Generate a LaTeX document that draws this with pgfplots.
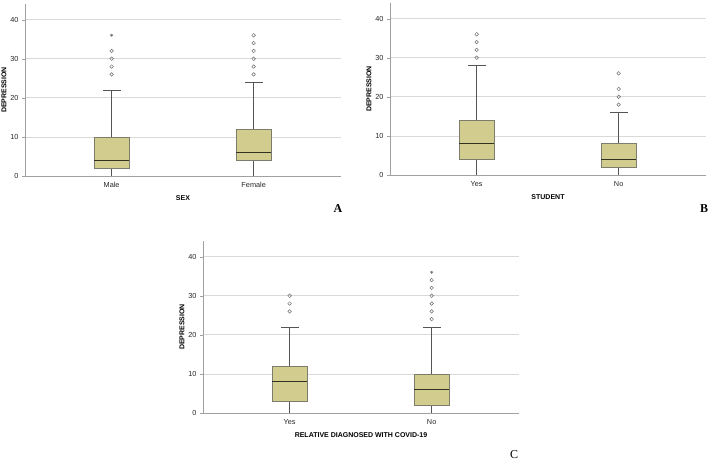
\documentclass[border=0pt]{standalone}
\usepackage{fontspec}
\setmainfont{Liberation Sans}
\newfontfamily\letterfont{Liberation Serif}
\usepackage{pgfplots}
\pgfplotsset{compat=1.18}
\usepgfplotslibrary{statistics}

\definecolor{boxfill}{RGB}{210,204,142}
\definecolor{boxedge}{RGB}{125,125,110}
\definecolor{medcol}{RGB}{50,50,35}
\definecolor{whiskcol}{RGB}{85,85,85}
\definecolor{gridcol}{RGB}{217,217,217}
\definecolor{axcol}{RGB}{160,160,160}
\definecolor{outcol}{RGB}{110,110,110}

\pgfplotsset{
  spss/.style={
    scale only axis, width=316pt, height=172pt,
    anchor=south west,
    xmin=0.39, xmax=2.615, ymin=0, ymax=44,
    axis x line*=bottom, axis y line*=left,
    axis line style={axcol, line width=0.8pt},
    xtick={1,2}, ytick={0,10,20,30,40},
    x tick style={draw=none}, major tick length=3pt, tick align=outside,
    y tick style={axcol},
    ymajorgrids, grid style={gridcol, line width=0.8pt},
    tick label style={font=\fontsize{7.3}{8}\selectfont, text=black!85},
    /pgf/number format/assume math mode=true,
    ylabel={DEPRESSION},
    every axis y label/.style={at={(axis description cs:0,0.5)}, rotate=90,
      anchor=center, yshift=21pt, font=\fontsize{7}{8}\selectfont\bfseries},
    every axis x label/.style={at={(axis description cs:0.5,0)},
      anchor=center, yshift=-22pt, font=\fontsize{7}{8}\selectfont\bfseries},
    boxplot/draw direction=y,
    boxplot/box extend=0.25,
    boxplot/whisker extend=0.125,
    boxplot/every box/.style={draw=boxedge, fill=boxfill, line width=0.7pt},
    boxplot/every whisker/.style={draw=whiskcol, line width=0.7pt},
    boxplot/every median/.style={draw=medcol, line width=1.5pt},
  },
  outl/.style={only marks, mark=o, mark size=1.8pt,
    mark options={draw=outcol, line width=0.5pt}},
  ext/.style={only marks, mark=asterisk, mark size=1.5pt,
    mark options={draw=outcol, line width=0.5pt}},
}

\begin{document}
\begin{tikzpicture}
\useasboundingbox (0,0) rectangle (709pt,460pt);

% A: sex
\begin{axis}[spss, at={(25pt,284pt)}, xticklabels={Male,Female}, xlabel={SEX}]
\addplot[boxplot prepared={lower whisker=0, lower quartile=2, median=4,
  upper quartile=10, upper whisker=22, draw position=1}] coordinates {};
\addplot[boxplot prepared={lower whisker=0, lower quartile=4, median=6,
  upper quartile=12, upper whisker=24, draw position=2}] coordinates {};
\addplot[outl] coordinates {(1,26)(1,28)(1,30)(1,32)};
\addplot[ext] coordinates {(1,36)};
\addplot[outl] coordinates {(2,26)(2,28)(2,30)(2,32)(2,34)(2,36)};
\end{axis}

% B: student
\begin{axis}[spss, at={(390pt,285pt)}, xticklabels={Yes,No}, xlabel={STUDENT}]
\addplot[boxplot prepared={lower whisker=0, lower quartile=4, median=8,
  upper quartile=14, upper whisker=28, draw position=1}] coordinates {};
\addplot[boxplot prepared={lower whisker=0, lower quartile=2, median=4,
  upper quartile=8, upper whisker=16, draw position=2}] coordinates {};
\addplot[outl] coordinates {(1,30)(1,32)(1,34)(1,36)};
\addplot[outl] coordinates {(2,18)(2,20)(2,22)(2,26)};
\end{axis}

% C: relative diagnosed
\begin{axis}[spss, at={(203pt,47pt)}, xticklabels={Yes,No},
  xlabel={RELATIVE DIAGNOSED WITH COVID-19}]
\addplot[boxplot prepared={lower whisker=0, lower quartile=3, median=8,
  upper quartile=12, upper whisker=22, draw position=1}] coordinates {};
\addplot[boxplot prepared={lower whisker=0, lower quartile=2, median=6,
  upper quartile=10, upper whisker=22, draw position=2}] coordinates {};
\addplot[outl] coordinates {(1,26)(1,28)(1,30)};
\addplot[outl] coordinates {(2,24)(2,26)(2,28)(2,30)(2,32)(2,34)};
\addplot[ext] coordinates {(2,36)};
\end{axis}

\node[font=\letterfont\bfseries\fontsize{12}{12}\selectfont] at (338pt,251pt) {A};
\node[font=\letterfont\bfseries\fontsize{12}{12}\selectfont] at (704pt,251pt) {B};
\node[font=\letterfont\fontsize{12}{12}\selectfont] at (514pt,5.5pt) {C};
\end{tikzpicture}
\end{document}
